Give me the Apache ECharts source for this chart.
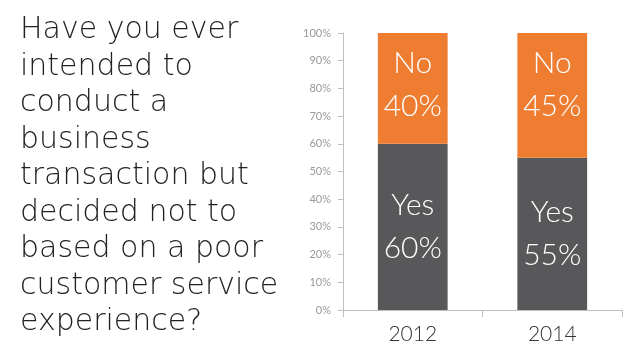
<!DOCTYPE html>
<html>
<head>
<meta charset="utf-8">
<script src="https://cdn.jsdelivr.net/npm/echarts@6/dist/echarts.min.js"></script>
<style>
  html, body { margin: 0; padding: 0; background: #ffffff; }
  #chart { width: 640px; height: 354px; }
</style>
</head>
<body>
<div id="chart"></div>
<script>
const years = ['2012', '2014'];
const yesValues = [60, 55];
const noValues = [40, 45];
const questionLines = [
    'Have you ever',
    'intended to',
    'conduct a',
    'business',
    'transaction but',
    'decided not to',
    'based on a poor',
    'customer service',
    'experience?'
];

const chart = echarts.init(document.getElementById('chart'));

const thinFont = 'Lato';
const wideFont = '"DejaVu Sans"';

const option = {
    backgroundColor: '#ffffff',
    animation: false,
    graphic: [{
        type: 'text',
        left: 20,
        top: 12,
        style: {
            text: questionLines.join('\n'),
            font: '200 30px ' + wideFont,
            lineHeight: 36.5,
            fill: '#222222'
        }
    }],
    grid: {
        left: 343,
        right: 18,
        top: 33,
        bottom: 44
    },
    xAxis: {
        type: 'category',
        data: years,
        axisLine: { lineStyle: { color: '#bfbfbf' } },
        axisTick: { show: true, length: 7, lineStyle: { color: '#bfbfbf' } },
        axisLabel: {
            color: '#333333',
            fontSize: 21,
            fontFamily: thinFont,
            fontWeight: 300,
            margin: 14
        }
    },
    yAxis: {
        type: 'value',
        min: 0,
        max: 100,
        interval: 10,
        axisLine: { show: true, lineStyle: { color: '#bfbfbf' } },
        axisTick: { show: true, length: 5, lineStyle: { color: '#bfbfbf' } },
        splitLine: { show: false },
        axisLabel: {
            formatter: '{value}%',
            color: '#999999',
            fontSize: 11,
            fontFamily: thinFont,
            margin: 12
        }
    },
    series: [
        {
            name: 'Yes',
            type: 'bar',
            stack: 'total',
            barWidth: '50%',
            data: yesValues,
            itemStyle: { color: '#58585a' },
            label: {
                show: true,
                position: 'inside',
                formatter: p => 'Yes\n' + p.value + '%',
                color: '#ffffff',
                fontSize: 30,
                fontFamily: thinFont,
                fontWeight: 300,
                lineHeight: 43
            }
        },
        {
            name: 'No',
            type: 'bar',
            stack: 'total',
            barWidth: '50%',
            data: noValues,
            itemStyle: { color: '#ee7d31' },
            label: {
                show: true,
                position: 'insideTop',
                distance: 9,
                formatter: p => 'No\n' + p.value + '%',
                color: '#ffffff',
                fontSize: 30,
                fontFamily: thinFont,
                fontWeight: 300,
                lineHeight: 43
            }
        }
    ]
};

chart.setOption(option);
</script>
</body>
</html>
